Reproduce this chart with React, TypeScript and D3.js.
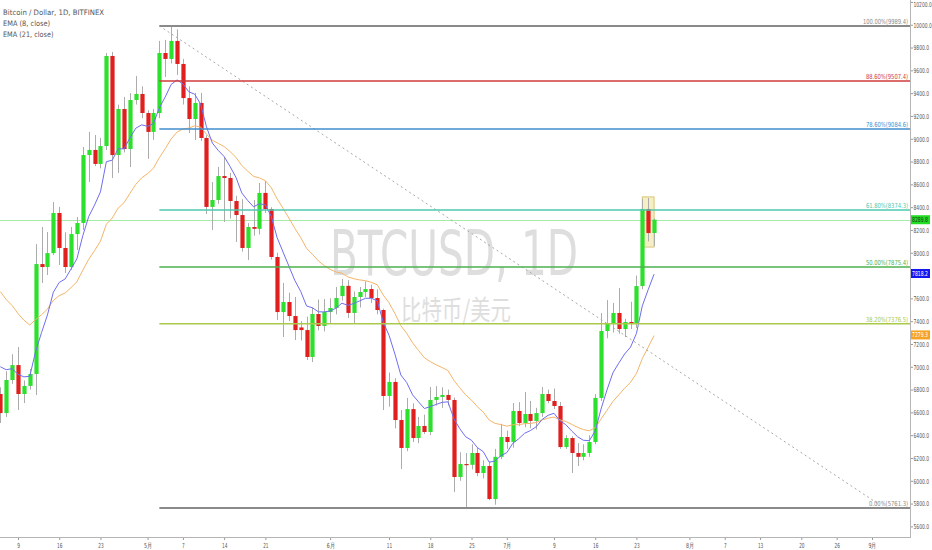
import React, { useEffect, useRef } from "react";
import * as d3 from "d3";

// daily candles, 2018-04-06 .. 2018-07-26
const startDate = "2018-04-06";

const opens = [
  // Apr
  6761, 6594, 6884, 7015, 6761, 6832, 6937, 7901, 7875, 7997, 8349, 8042, 7875, 8164, 8261, 8857, 8902, 8779, 8936, 9726, 8857, 9261, 8910, 9340, 9393,
  // May
  9226, 9060, 9226, 9752, 9700, 9858, 9656, 9357, 9173, 9314, 9007, 8402, 8463, 8673, 8656, 8454, 8331, 8042, 8226, 8210, 8525, 8384, 7963, 7480, 7568, 7445, 7345, 7322, 7086, 7463, 7358,
  // Jun
  7480, 7516, 7620, 7710, 7472, 7612, 7656, 7682, 7603, 7498, 6744, 6867, 6533, 6288, 6629, 6375, 6481, 6428, 6709, 6735, 6753, 6709, 6033, 6147, 6140, 6244, 6068, 6130, 5840, 6210,
  // Jul
  6384, 6340, 6612, 6507, 6586, 6525, 6594, 6761, 6700, 6656, 6296, 6375, 6244, 6210, 6244, 6340, 6727, 7314, 7375, 7472, 7331, 7393, 7384, 7708, 8384, 8173,
];
const highs = [
  6820, 6960, 7110, 7173, 6880, 6980, 8077, 8226, 8182, 8445, 8402, 8180, 8226, 8314, 8928, 9060, 9033, 9007, 9752, 9761, 9300, 9367, 9400, 9551, 9460,
  9250, 9260, 9858, 9867, 9989, 9960, 9700, 9460, 9402, 9402, 9030, 8620, 8753, 8840, 8700, 8500, 8470, 8260, 8463, 8612, 8630, 8400, 8000, 7735, 7650, 7612, 7400, 7440, 7520, 7590, 7594,
  7600, 7700, 7770, 7760, 7660, 7700, 7750, 7720, 7680, 7510, 6950, 6900, 6620, 6727, 6680, 6560, 6580, 6823, 6830, 6820, 6800, 6730, 6250, 6244, 6320, 6290, 6180, 6170, 6280, 6500,
  6440, 6682, 6690, 6779, 6700, 6640, 6823, 6800, 6810, 6690, 6400, 6390, 6330, 6320, 6400, 6760, 7472, 7586, 7560, 7691, 7420, 7570, 7800, 8470, 8480, 8300,
];
const lows = [
  6507, 6560, 6850, 6621, 6682, 6800, 6752, 7735, 7805, 7980, 7893, 7823, 7850, 8024, 8200, 8621, 8760, 8740, 8900, 8656, 8700, 8880, 8752, 9300, 9180,
  8823, 8990, 9180, 9542, 9660, 9560, 9300, 9051, 8989, 8980, 8340, 8200, 8430, 8270, 8300, 8095, 8010, 7937, 8150, 8160, 8350, 7940, 7410, 7261, 7400, 7235, 7230, 7060, 7042, 7320, 7310,
  7380, 7460, 7580, 7428, 7384, 7520, 7610, 7560, 7460, 6621, 6650, 6460, 6103, 6260, 6340, 6330, 6410, 6400, 6660, 6640, 6660, 5901, 6000, 5761.3, 6100, 6040, 6020, 5830, 5790, 6190,
  6280, 6290, 6480, 6470, 6460, 6450, 6560, 6680, 6630, 6280, 6280, 6068, 6130, 6180, 6210, 6320, 6700, 7250, 7300, 7290, 7260, 7330, 7340, 7680, 8100, 8060,
];
const closes = [
  6594, 6884, 7015, 6761, 6832, 6937, 7901, 7875, 7997, 8349, 8042, 7875, 8164, 8261, 8857, 8902, 8779, 8936, 9726, 8857, 9261, 8910, 9340, 9393, 9226,
  9060, 9226, 9752, 9700, 9858, 9656, 9357, 9173, 9314, 9007, 8402, 8463, 8673, 8656, 8454, 8331, 8042, 8226, 8210, 8525, 8384, 7963, 7480, 7568, 7445, 7322, 7322, 7086, 7463, 7358, 7480,
  7516, 7603, 7710, 7472, 7612, 7656, 7682, 7603, 7498, 6744, 6867, 6533, 6288, 6629, 6375, 6481, 6428, 6709, 6735, 6753, 6709, 6033, 6147, 6140, 6244, 6068, 6130, 5840, 6210, 6384,
  6340, 6612, 6507, 6586, 6525, 6594, 6761, 6700, 6656, 6296, 6375, 6244, 6210, 6244, 6340, 6727, 7314, 7375, 7472, 7331, 7393, 7384, 7708, 8384, 8173, 8290,
];

// EMA values on the first visible day (at the left edge)
const ema8Seed = 7000;
const ema21Seed = 7660;

// fibonacci retracement
const fibLevels = ["100.00%", "88.60%", "78.60%", "61.80%", "50.00%", "38.20%", "0.00%"];
const fibPrices = [9989.4, 9507.4, 9084.6, 8374.3, 7875.4, 7376.5, 5761.3];
const fibColors = ["#8a8a8a", "#d03a3a", "#3f8ecf", "#4cc8ae", "#4cb04f", "#a9c94b", "#8a8a8a"];
const fibStart = "2018-05-03";

// dotted trend line and rectangle drawings
const trendDates = ["2018-05-03", "2018-09-02"];
const trendPrices = [9990, 5800];
const boxDates = ["2018-07-24", "2018-07-26"];
const boxPrices = [8490, 8050];

// axis labels
const priceTicks = [10200, 10000, 9800, 9600, 9400, 9200, 9000, 8800, 8600, 8400, 8200, 8000, 7600, 7400, 7200, 7000, 6800, 6600, 6400, 6200, 6000, 5800, 5600];
const tickDates = ["2018-04-09", "2018-04-16", "2018-04-23", "2018-05-01", "2018-05-07", "2018-05-14", "2018-05-21", "2018-06-01", "2018-06-11", "2018-06-18", "2018-06-25", "2018-07-01", "2018-07-09", "2018-07-16", "2018-07-23", "2018-08-01", "2018-08-07", "2018-08-13", "2018-08-20", "2018-08-26", "2018-09-01"];
const tickLabels = ["9", "16", "23", "5月", "7", "14", "21", "6月", "11", "18", "25", "7月", "9", "16", "23", "8月", "7", "13", "20", "26", "9月"];

const lastPrice = 8289.8;
const ema8Last = 7818.2;
const ema21Last = 7279.3;

const FONT = "'DejaVu Sans Condensed', 'DejaVu Sans', sans-serif";

// the screenshot is squeezed sideways, so texts get a horizontal scale
const squeeze = (
  sel: d3.Selection<SVGTextElement, any, any, any>,
  x: number,
  y: number,
  s: number,
  len: number
) =>
  sel
    .attr("x", 0)
    .attr("y", 0)
    .attr("transform", `translate(${x},${y}) scale(${s},1)`)
    .attr("textLength", len / s)
    .attr("lengthAdjust", "spacingAndGlyphs");

const App: React.FC = () => {
  const chartRef = useRef<SVGSVGElement | null>(null);

  useEffect(() => {
    const width = 932,
      height = 550,
      plotRight = 910,
      plotBottom = 537;

    const svg = d3.select(chartRef.current);
    svg.selectAll("*").remove();

    const parse = d3.utcParse("%Y-%m-%d");
    const start = parse(startDate)!;
    const days = closes.map((_, i) => d3.utcDay.offset(start, i));

    const x = d3
      .scaleUtc()
      .domain([parse("2018-04-09")!, parse("2018-09-01")!])
      .range([18, 872]);
    const y = d3.scaleLinear().domain([5507, 10217]).range([plotBottom, 0]);

    svg
      .append("rect")
      .attr("width", width)
      .attr("height", height)
      .attr("fill", "#ffffff");

    svg
      .append("clipPath")
      .attr("id", "plot-clip")
      .append("rect")
      .attr("width", plotRight)
      .attr("height", plotBottom);

    const plot = svg.append("g").attr("clip-path", "url(#plot-clip)");

    // watermark
    squeeze(
      plot
        .append("text")
        .attr("font-family", FONT)
        .attr("font-size", 62)
        .attr("fill", "#dedede")
        .text("BTCUSD, 1D"),
      330,
      275,
      0.68,
      248
    );
    squeeze(
      plot
        .append("text")
        .attr("font-family", "'Noto Sans CJK SC', sans-serif")
        .attr("font-size", 27)
        .attr("fill", "#dedede")
        .text("比特币/美元"),
      401,
      320,
      0.76,
      110
    );

    // rectangle drawing
    plot
      .append("rect")
      .attr("x", x(parse(boxDates[0])!))
      .attr("y", y(boxPrices[0]))
      .attr("width", x(parse(boxDates[1])!) - x(parse(boxDates[0])!))
      .attr("height", y(boxPrices[1]) - y(boxPrices[0]))
      .attr("fill", "#f7efc4")
      .attr("stroke", "#d9c47a")
      .attr("stroke-width", 1);

    // current price line
    plot
      .append("line")
      .attr("x1", 0)
      .attr("x2", plotRight)
      .attr("y1", Math.round(y(lastPrice)) + 0.5)
      .attr("y2", Math.round(y(lastPrice)) + 0.5)
      .attr("stroke", "#a3eca3")
      .attr("stroke-width", 1);

    // candles
    const bodyW = 4.2;
    const candles = plot
      .selectAll("g.candle")
      .data(closes.map((c, i) => ({ d: days[i], o: opens[i], h: highs[i], l: lows[i], c })))
      .join("g")
      .attr("class", "candle");

    candles
      .append("line")
      .attr("x1", (d) => Math.round(x(d.d)) + 0.5)
      .attr("x2", (d) => Math.round(x(d.d)) + 0.5)
      .attr("y1", (d) => y(d.h))
      .attr("y2", (d) => y(d.l))
      .attr("stroke", "#acacac")
      .attr("stroke-width", 1);

    candles
      .append("rect")
      .attr("x", (d) => Math.round(x(d.d)) + 0.5 - bodyW / 2)
      .attr("width", bodyW)
      .attr("y", (d) => y(Math.max(d.o, d.c)))
      .attr("height", (d) => Math.max(1.2, Math.abs(y(d.o) - y(d.c))))
      .attr("fill", (d) => (d.c >= d.o ? "#2ee02e" : "#e01f1f"));

    // EMA lines
    const ema = (seed: number, n: number) => {
      const k = 2 / (n + 1);
      const out = [seed];
      for (let i = 1; i < closes.length; i++) out.push(out[i - 1] + k * (closes[i] - out[i - 1]));
      return out;
    };
    const line = d3
      .line<number>()
      .x((_, i) => x(days[i]))
      .y((v) => y(v));

    plot
      .append("path")
      .datum(ema(ema21Seed, 21))
      .attr("d", line)
      .attr("fill", "none")
      .attr("stroke", "#f4b569")
      .attr("stroke-width", 1);
    plot
      .append("path")
      .datum(ema(ema8Seed, 8))
      .attr("d", line)
      .attr("fill", "none")
      .attr("stroke", "#6e6ef0")
      .attr("stroke-width", 1);

    // trend line
    plot
      .append("line")
      .attr("x1", x(parse(trendDates[0])!))
      .attr("y1", y(trendPrices[0]))
      .attr("x2", x(parse(trendDates[1])!))
      .attr("y2", y(trendPrices[1]))
      .attr("stroke", "#a8a8a8")
      .attr("stroke-width", 1)
      .attr("stroke-dasharray", "2,3");

    // fib retracement
    const fibX = x(parse(fibStart)!);
    fibPrices.forEach((p, i) => {
      const yy = y(p);
      const thick = i === 0 || i === fibPrices.length - 1;
      plot
        .append("line")
        .attr("x1", fibX)
        .attr("x2", plotRight)
        .attr("y1", yy)
        .attr("y2", yy)
        .attr("stroke", fibColors[i])
        .attr("stroke-width", thick ? 2 : 1.5);
      const label = `${fibLevels[i]}(${p.toFixed(1)})`;
      squeeze(
        plot
          .append("text")
          .attr("text-anchor", "end")
          .attr("font-family", FONT)
          .attr("font-size", 7)
          .attr("fill", fibColors[i])
          .text(label),
        908,
        yy - 2,
        0.75,
        label.length * 3
      );
    });

    // legend
    ["Bitcoin / Dollar, 1D, BITFINEX", "EMA (8, close)", "EMA (21, close)"].forEach((t, i) => {
      squeeze(
        svg
          .append("text")
          .attr("font-family", FONT)
          .attr("font-size", 7.5)
          .attr("fill", "#555")
          .text(t),
        3,
        15 + i * 11,
        0.8,
        t.length * 3.37
      );
    });

    // right price axis
    const yAxis = svg
      .append("g")
      .attr("transform", `translate(${plotRight},0)`)
      .call(
        d3
          .axisRight(y)
          .tickValues(priceTicks)
          .tickFormat((d) => (d as number).toFixed(1))
          .tickSize(3)
          .tickSizeOuter(0)
      );
    yAxis.select(".domain").remove();
    yAxis.selectAll("line").attr("stroke", "#999");
    yAxis
      .selectAll<SVGTextElement, number>("text")
      .attr("font-family", FONT)
      .attr("font-size", 6.8)
      .attr("fill", "#555")
      .attr("dy", null)
      .each(function (d) {
        const t = d.toFixed(1);
        squeeze(d3.select(this), 3.5, Math.max(d === 10200 ? 4.5 : 2.3, 2.3), 0.62, t.length * 2.6);
      });

    svg
      .append("line")
      .attr("x1", plotRight + 0.5)
      .attr("x2", plotRight + 0.5)
      .attr("y1", 0)
      .attr("y2", plotBottom)
      .attr("stroke", "#b5b5b5");

    // bottom time axis
    const xAxis = svg
      .append("g")
      .attr("transform", `translate(0,${plotBottom})`)
      .call(
        d3
          .axisBottom(x)
          .tickValues(tickDates.map((d) => parse(d)!))
          .tickFormat((_, i) => tickLabels[i])
          .tickSize(3)
          .tickSizeOuter(0)
      );
    xAxis.select(".domain").remove();
    xAxis.selectAll("line").attr("stroke", "#999");
    xAxis
      .selectAll<SVGTextElement, Date>("text")
      .attr("font-family", FONT)
      .attr("font-size", 7)
      .attr("fill", "#555")
      .attr("dy", null)
      .each(function (_, i) {
        const lab = tickLabels[i];
        squeeze(d3.select(this), 0, 11, 0.75, lab.includes("月") ? 8 : lab.length * 2.7);
      });

    svg
      .append("line")
      .attr("x1", 0)
      .attr("x2", plotRight + 1)
      .attr("y1", plotBottom + 0.5)
      .attr("y2", plotBottom + 0.5)
      .attr("stroke", "#b5b5b5");

    // last value badges on the price axis
    [
      { v: lastPrice, fill: "#22dd22", color: "#1a3a1a" },
      { v: ema8Last, fill: "#1616f0", color: "#ffffff" },
      { v: ema21Last, fill: "#f5a321", color: "#ffffff" },
    ].forEach((b) => {
      const yy = y(b.v);
      svg
        .append("rect")
        .attr("x", plotRight + 1)
        .attr("y", yy - 4.5)
        .attr("width", 19)
        .attr("height", 9)
        .attr("fill", b.fill);
      squeeze(
        svg
          .append("text")
          .attr("font-family", FONT)
          .attr("font-size", 6.8)
          .attr("fill", b.color)
          .text(b.v.toFixed(1)),
        plotRight + 2,
        yy + 2.3,
        0.62,
        16
      );
    });
  }, []);

  return (
    <svg
      ref={chartRef}
      width={932}
      height={550}
      style={{ position: "absolute", left: 0, top: 0 }}
    />
  );
};

export default App;
